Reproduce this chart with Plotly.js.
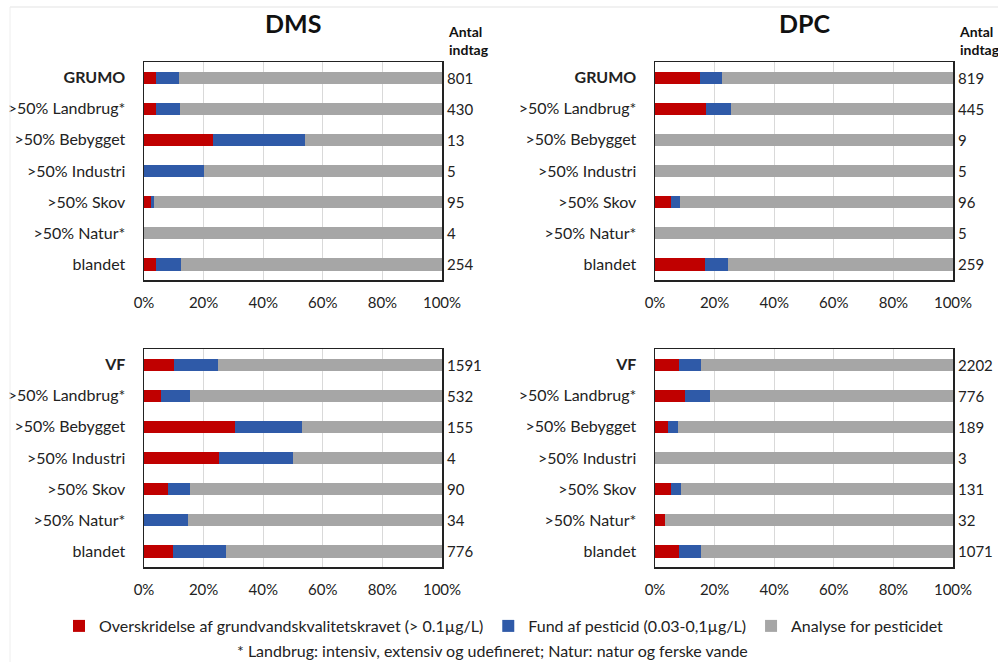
<!DOCTYPE html>
<html>
<head>
<meta charset="utf-8">
<script src="https://cdn.plot.ly/plotly-3.0.1.min.js"></script>
<style>html,body{margin:0;padding:0;background:#fff;}#chart{width:998px;height:662px;}</style>
</head>
<body>
<div id="chart"></div>
<script>
// ---- Data ----
const catsGrumo = ['GRUMO', '>50% Landbrug*', '>50% Bebygget', '>50% Industri', '>50% Skov', '>50% Natur*', 'blandet'];
const catsVf = ['VF', '>50% Landbrug*', '>50% Bebygget', '>50% Industri', '>50% Skov', '>50% Natur*', 'blandet'];

const seriesNames = ['Overskridelse af grundvandskvalitetskravet (> 0.1µg/L)', 'Fund af pesticid (0.03-0,1µg/L)', 'Analyse for pesticidet'];
const panelTitles = ['DMS', 'DPC'];
const countHeader = 'Antal<br>indtag';
const footnote = '* Landbrug: intensiv, extensiv og udefineret; Natur: natur og ferske vande';

// DMS – GRUMO (percent segments)
const dmsGrumoExceed = [4.1, 4.0, 23.1, 0, 2.3, 0, 4.1];
const dmsGrumoFound = [7.6, 8.0, 30.8, 20.0, 1.2, 0, 8.3];
const dmsGrumoAnalysed = [88.3, 88.0, 46.1, 80.0, 96.5, 100, 87.6];
const dmsGrumoN = [801, 430, 13, 5, 95, 4, 254];

// DPC – GRUMO
const dpcGrumoExceed = [15.0, 17.0, 0, 0, 5.5, 0, 16.8];
const dpcGrumoFound = [7.6, 8.4, 0, 0, 2.9, 0, 7.7];
const dpcGrumoAnalysed = [77.4, 74.6, 100, 100, 91.6, 100, 75.5];
const dpcGrumoN = [819, 445, 9, 5, 96, 5, 259];

// DMS – VF
const dmsVfExceed = [10.1, 5.6, 30.5, 25.0, 7.9, 0, 9.7];
const dmsVfFound = [14.8, 9.7, 22.4, 25.0, 7.7, 14.9, 17.7];
const dmsVfAnalysed = [75.1, 84.7, 47.1, 50.0, 84.4, 85.1, 72.6];
const dmsVfN = [1591, 532, 155, 4, 90, 34, 776];

// DPC – VF
const dpcVfExceed = [8.0, 10.0, 4.5, 0, 5.5, 3.3, 8.0];
const dpcVfFound = [7.3, 8.4, 3.1, 0, 3.1, 0, 7.6];
const dpcVfAnalysed = [84.7, 81.6, 92.4, 100, 91.4, 96.7, 84.4];
const dpcVfN = [2202, 776, 189, 3, 131, 32, 1071];

// ---- Styling ----
const colors = ['#C00000', '#2F5AA8', '#A6A6A6'];
const FONT = 'Lato, "Open Sans", sans-serif';

const panels = [
  {cats: catsGrumo, vals: [dmsGrumoExceed, dmsGrumoFound, dmsGrumoAnalysed], n: dmsGrumoN, ax: ''},
  {cats: catsGrumo, vals: [dpcGrumoExceed, dpcGrumoFound, dpcGrumoAnalysed], n: dpcGrumoN, ax: '2'},
  {cats: catsVf, vals: [dmsVfExceed, dmsVfFound, dmsVfAnalysed], n: dmsVfN, ax: '3'},
  {cats: catsVf, vals: [dpcVfExceed, dpcVfFound, dpcVfAnalysed], n: dpcVfN, ax: '4'}
];

const traces = [];
panels.forEach((p, pi) => {
  p.vals.forEach((v, si) => {
    traces.push({
      type: 'bar', orientation: 'h',
      x: v, y: p.cats,
      name: seriesNames[si],
      legendgroup: 's' + si,
      showlegend: pi === 0,
      marker: {color: colors[si]},
      xaxis: 'x' + p.ax, yaxis: 'y' + p.ax,
      hoverinfo: 'x+y+name'
    });
  });
});

const W = 998, H = 662;
const xL = [144 / W, 442 / W], xR = [655 / W, 953 / W];
const yT = [1 - 280 / H, 1 - 62 / H], yB = [1 - 567 / H, 1 - 349 / H];

function xaxis(domain, anchor) {
  return {
    domain: domain, anchor: anchor, range: [0, 100],
    tickmode: 'array', tickvals: [0, 20, 40, 60, 80, 100], ticktext: ['0%', '20%', '40%', '60%', '80%', '100%'],
    showline: true, mirror: true, linecolor: '#222', linewidth: 1.5,
    showgrid: true, gridcolor: '#d9d9d9', gridwidth: 1, zeroline: false,
    ticks: '', ticklabelstandoff: 8,
    tickfont: {family: FONT, size: 15, color: '#222'}, fixedrange: true
  };
}
function yaxis(domain, anchor, cats) {
  return {
    domain: domain, anchor: anchor, type: 'category',
    autorange: 'reversed',
    tickmode: 'array', tickvals: cats,
    ticktext: cats.map((c, i) => i === 0 ? '<b>' + c + '</b>' : c),
    showline: true, mirror: true, linecolor: '#222', linewidth: 1.5,
    showgrid: false, zeroline: false, ticks: '', ticklabelstandoff: 14,
    tickfont: {family: FONT, size: 16, color: '#222'}, fixedrange: true
  };
}

const annotations = [];
// Panel titles
annotations.push({text: '<b>' + panelTitles[0] + '</b>', xref: 'paper', yref: 'paper', x: (xL[0] + xL[1]) / 2, y: 1 - 23 / H, xanchor: 'center', yanchor: 'middle', showarrow: false, font: {family: FONT, size: 25, color: '#111'}});
annotations.push({text: '<b>' + panelTitles[1] + '</b>', xref: 'paper', yref: 'paper', x: (xR[0] + xR[1]) / 2, y: 1 - 23 / H, xanchor: 'center', yanchor: 'middle', showarrow: false, font: {family: FONT, size: 25, color: '#111'}});
// Count headers
[xL[1], xR[1]].forEach(xx => {
  annotations.push({text: '<b>' + countHeader + '</b>', xref: 'paper', yref: 'paper', x: xx + 4 / W, y: 1 - 41 / H, xanchor: 'left', yanchor: 'middle', align: 'left', showarrow: false, font: {family: FONT, size: 14, color: '#111'}});
});
// Counts
panels.forEach(p => {
  p.cats.forEach((c, i) => {
    annotations.push({text: String(p.n[i]), xref: 'x' + p.ax, yref: 'y' + p.ax, x: 100, y: c, xanchor: 'left', yanchor: 'middle', xshift: 3, showarrow: false, font: {family: FONT, size: 15, color: '#222'}});
  });
});
// Footnote
annotations.push({text: footnote, xref: 'paper', yref: 'paper', x: 492 / W, y: 1 - 650 / H, xanchor: 'center', yanchor: 'middle', showarrow: false, font: {family: FONT, size: 16, color: '#222'}});

const layout = {
  width: W, height: H,
  margin: {l: 0, r: 0, t: 0, b: 0},
  paper_bgcolor: '#fff', plot_bgcolor: '#fff',
  barmode: 'stack', bargap: 0.61,
  font: {family: FONT, size: 15, color: '#222'},
  showlegend: true,
  legend: {orientation: 'h', x: 59 / W, y: 1 - 626 / H, xanchor: 'left', yanchor: 'middle', font: {family: FONT, size: 16, color: '#222'}, traceorder: 'normal', itemwidth: 30, bgcolor: 'rgba(0,0,0,0)'},
  xaxis: xaxis(xL, 'y'), yaxis: yaxis(yT, 'x', catsGrumo),
  xaxis2: xaxis(xR, 'y2'), yaxis2: yaxis(yT, 'x2', catsGrumo),
  xaxis3: xaxis(xL, 'y3'), yaxis3: yaxis(yB, 'x3', catsVf),
  xaxis4: xaxis(xR, 'y4'), yaxis4: yaxis(yB, 'x4', catsVf),
  annotations: annotations,
  shapes: [
    {type: 'line', xref: 'paper', yref: 'paper', x0: 10 / W, x1: 1, y0: 1 - 7 / H, y1: 1 - 7 / H, line: {color: '#e3e3e3', width: 1}},
    {type: 'line', xref: 'paper', yref: 'paper', x0: 10 / W, x1: 10 / W, y0: 0, y1: 1 - 7 / H, line: {color: '#eeeeee', width: 1}}
  ]
};

Plotly.newPlot('chart', traces, layout, {displayModeBar: false, staticPlot: true});
</script>
</body>
</html>
